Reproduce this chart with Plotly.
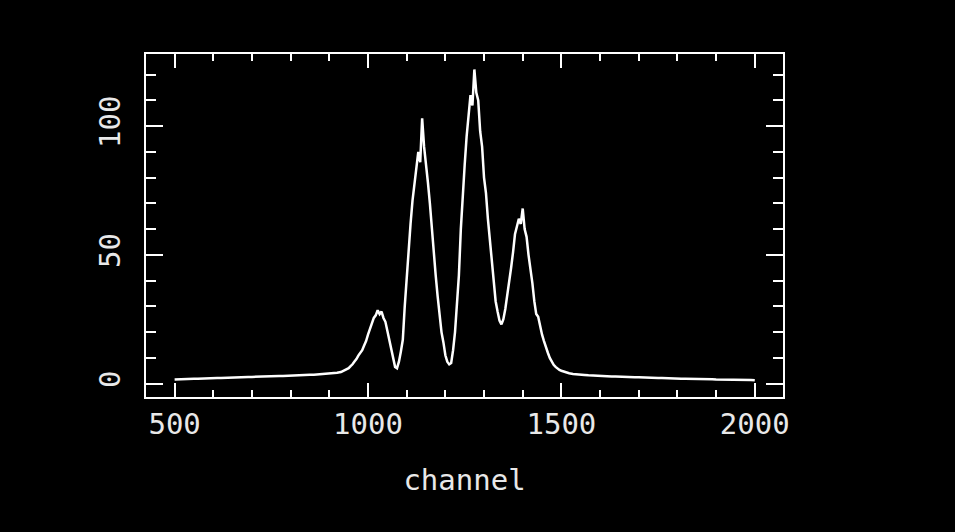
import plotly.graph_objects as go

# channel bins: coarse on the flat wings, finer across the peaks
channel = list(range(500, 950, 10)) + list(range(950, 1500, 5)) + list(range(1500, 2001, 10))

counts = [
    # 500-940 (step 10)
    1.6, 1.7, 1.7, 1.8, 1.8, 1.9, 1.9, 2.0, 2.0, 2.1,
    2.1, 2.2, 2.2, 2.3, 2.3, 2.4, 2.4, 2.5, 2.5, 2.6,
    2.6, 2.7, 2.7, 2.8, 2.8, 2.9, 2.9, 3.0, 3.0, 3.1,
    3.1, 3.2, 3.2, 3.3, 3.3, 3.4, 3.4, 3.5, 3.6, 3.8,
    3.9, 4.0, 4.2, 4.5, 5.2,
    # 950-1495 (step 5)
    6.0, 6.8, 7.5, 8.6, 9.5, 10.9, 12.0, 13.0, 14.8, 16.5,
    19.0, 21.0, 23.5, 25.5, 26.5, 28.5, 27.0, 28.0, 25.5, 24.0,
    20.5, 17.0, 12.5, 9.0, 6.5, 6.0, 8.5, 12.5, 17.0, 30.0,
    42.0, 53.0, 62.0, 71.0, 78.0, 84.0, 90.0, 86.0, 103.0, 92.0,
    86.0, 78.0, 70.0, 60.0, 50.0, 42.0, 34.0, 27.0, 20.0, 16.0,
    11.0, 8.5, 7.5, 8.0, 13.0, 20.0, 30.0, 42.0, 60.0, 74.0,
    85.0, 96.0, 104.0, 112.0, 108.0, 122.0, 113.0, 110.0, 98.0, 92.0,
    80.0, 74.0, 64.0, 56.0, 46.0, 40.0, 32.0, 28.0, 24.5, 23.0,
    25.0, 29.0, 34.0, 40.0, 45.0, 51.0, 58.0, 61.0, 64.0, 62.0,
    68.0, 60.0, 57.0, 50.0, 45.0, 39.0, 32.0, 27.0, 26.0, 22.0,
    19.0, 16.5, 14.0, 12.0, 10.0, 8.5, 7.3, 6.5, 5.8, 5.3,
    # 1500-2000 (step 10)
    5.0, 4.4, 4.0, 3.7, 3.5, 3.4, 3.3, 3.2, 3.1, 3.0,
    3.0, 2.9, 2.9, 2.8, 2.8, 2.7, 2.7, 2.6, 2.6, 2.5,
    2.5, 2.4, 2.4, 2.3, 2.3, 2.2, 2.2, 2.1, 2.1, 2.0,
    2.0, 1.9, 1.9, 1.9, 1.8, 1.8, 1.8, 1.7, 1.7, 1.7,
    1.6, 1.6, 1.6, 1.5, 1.5, 1.5, 1.4, 1.4, 1.4, 1.4,
    1.3,
]

x_ticks = [500, 1000, 1500, 2000]
y_ticks = [0, 50, 100]

FONT = "DejaVu Sans Mono"
TXT = "#e8e8e8"

fig = go.Figure()
fig.add_trace(go.Scatter(
    x=channel, y=counts, mode="lines",
    line=dict(color="white", width=2.5), hoverinfo="skip",
))

fig.update_layout(
    width=955, height=532,
    paper_bgcolor="black", plot_bgcolor="black",
    margin=dict(l=146, r=172, t=54, b=135),
    showlegend=False,
)

fig.update_xaxes(
    range=[426, 2073],
    tickvals=x_ticks, ticktext=[str(v) for v in x_ticks],
    ticks="inside", ticklen=14, tickwidth=2, tickcolor="white",
    showline=True, linecolor="white", linewidth=2, mirror="ticks",
    showgrid=False, zeroline=False,
    minor=dict(dtick=100, tick0=500, ticks="inside", ticklen=7, tickwidth=2,
               tickcolor="white", showgrid=False),
    tickfont=dict(family=FONT, size=29, color=TXT),
    ticklabelstandoff=0,
    title=dict(text="channel", font=dict(family=FONT, size=29, color=TXT), standoff=30),
)

fig.update_yaxes(
    range=[-5.2, 128],
    tickvals=y_ticks, ticktext=[str(v) for v in y_ticks],
    tickangle=-90,
    ticks="inside", ticklen=17, tickwidth=2, tickcolor="white",
    showline=True, linecolor="white", linewidth=2, mirror="ticks",
    showgrid=False, zeroline=False,
    minor=dict(dtick=10, tick0=0, ticks="inside", ticklen=10, tickwidth=2,
               tickcolor="white", showgrid=False),
    tickfont=dict(family=FONT, size=29, color=TXT),
    ticklabelstandoff=12,
)

fig.write_html(
    "out.html",
    config={"displayModeBar": False},
    post_script="document.body.style.margin='0';document.body.style.background='black';",
)
